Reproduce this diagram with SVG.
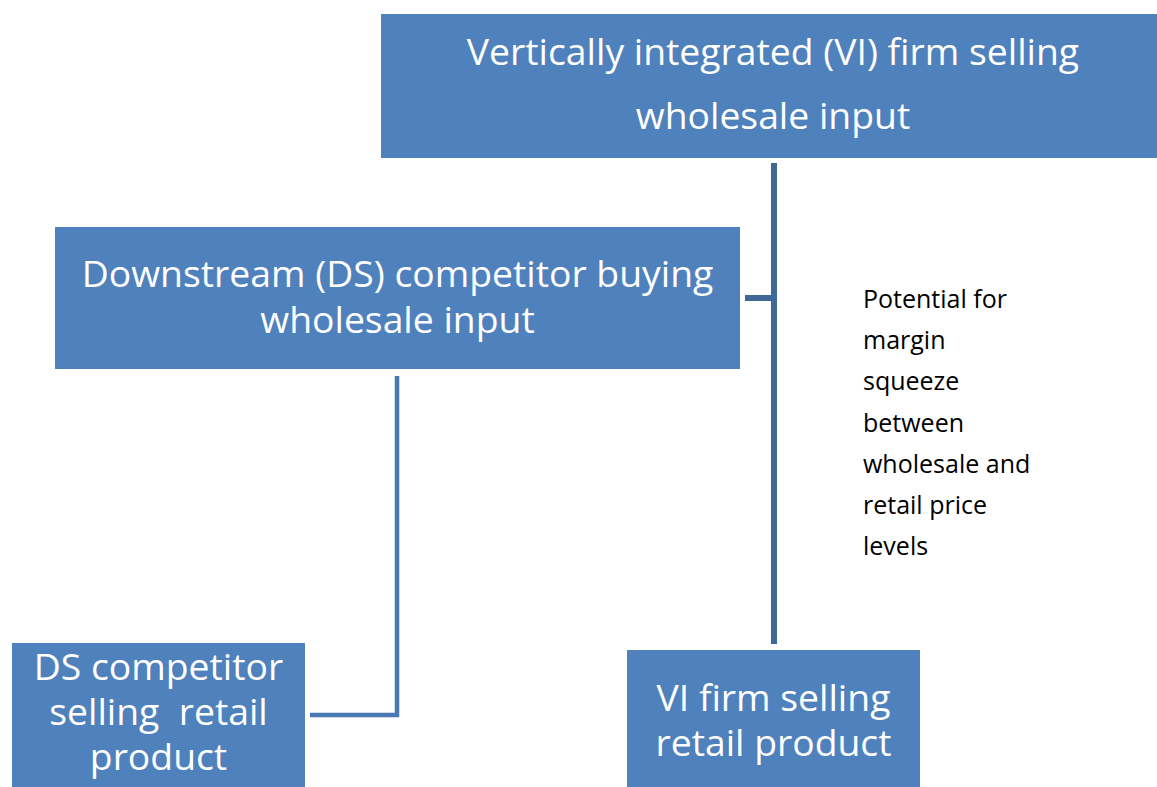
<svg xmlns="http://www.w3.org/2000/svg" width="1157" height="787" viewBox="0 0 1157 787">
<style>
.box{fill:#4F81BD}
.bt{font-family:"Open Sans","Liberation Sans",sans-serif;font-size:37.3px;fill:#FFFFFF;text-anchor:middle}
.lbl{font-family:"Open Sans","Liberation Sans",sans-serif;font-size:25px;fill:#000000}
.c1{fill:none;stroke:#3F6899;stroke-width:6}
.c2{fill:none;stroke:#4A78B2;stroke-width:4.5}
</style>
<rect width="1157" height="787" fill="#FFFFFF"/>
<g id="connectors">
<line class="c1" x1="774" y1="163" x2="774" y2="644"/>
<line class="c1" x1="745" y1="298" x2="774" y2="298"/>
<polyline class="c2" points="397,376 397,715 310,715"/>
</g>
<g id="vi-wholesale">
<rect class="box" x="381" y="14" width="776" height="144"/>
<text class="bt" x="773" y="65">Vertically integrated (VI) firm selling</text>
<text class="bt" x="773" y="129">wholesale input</text>
</g>
<g id="ds-buying">
<rect class="box" x="55" y="227" width="685" height="142"/>
<text class="bt" x="397.5" y="287">Downstream (DS) competitor buying</text>
<text class="bt" x="397.5" y="333">wholesale input</text>
</g>
<g id="ds-retail">
<rect class="box" x="12" y="643" width="293" height="144"/>
<text class="bt" x="158.5" y="680">DS competitor</text>
<text class="bt" x="158.5" y="725" xml:space="preserve">selling  retail</text>
<text class="bt" x="158.5" y="770">product</text>
</g>
<g id="vi-retail">
<rect class="box" x="627" y="650" width="293" height="137"/>
<text class="bt" x="773.5" y="711">VI firm selling</text>
<text class="bt" x="773.5" y="756">retail product</text>
</g>
<g id="label">
<text class="lbl" x="863" y="308">Potential for</text>
<text class="lbl" x="863" y="349">margin</text>
<text class="lbl" x="863" y="390">squeeze</text>
<text class="lbl" x="863" y="432">between</text>
<text class="lbl" x="863" y="473">wholesale and</text>
<text class="lbl" x="863" y="514">retail price</text>
<text class="lbl" x="863" y="555">levels</text>
</g>
</svg>
